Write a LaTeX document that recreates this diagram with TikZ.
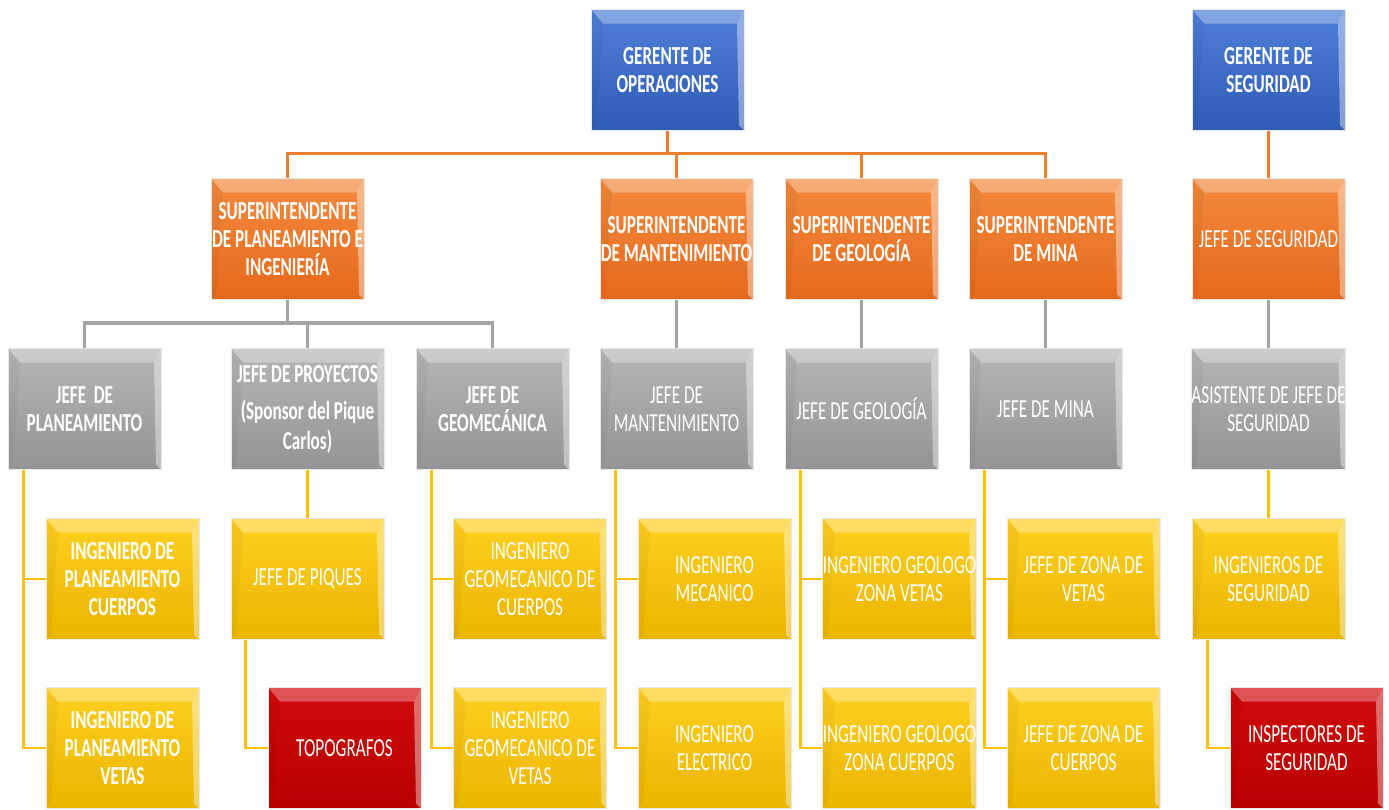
\documentclass[tikz,border=0pt]{standalone}
\usepackage{fontspec}
\setmainfont{Carlito}[FakeStretch=0.66]

\definecolor{blueA}{HTML}{4F80D8}
\definecolor{blueB}{HTML}{2F5BB5}
\definecolor{orangeA}{HTML}{F48A3E}
\definecolor{orangeB}{HTML}{E5691C}
\definecolor{grayA}{HTML}{B6B6B6}
\definecolor{grayB}{HTML}{949494}
\definecolor{yellowA}{HTML}{FFD020}
\definecolor{yellowB}{HTML}{E9B500}
\definecolor{redA}{HTML}{D10A0A}
\definecolor{redB}{HTML}{B80000}
\definecolor{oline}{HTML}{ED7D31}
\definecolor{gline}{HTML}{A5A5A5}
\definecolor{yline}{HTML}{FFC000}

\tikzset{
  box/.style={minimum width=153, minimum height=121, inner sep=0pt, align=center,
    text=white, draw=white!82!gray, line width=0.6pt,
    path picture={
      \fill[white,opacity=.3] (path picture bounding box.north west) -- (path picture bounding box.north east)
        -- ([xshift=-7pt,yshift=-14pt]path picture bounding box.north east)
        -- ([xshift=12pt,yshift=-14pt]path picture bounding box.north west) -- cycle;
      \fill[white,opacity=.4] (path picture bounding box.north east) -- (path picture bounding box.south east)
        -- ([xshift=-5pt,yshift=5pt]path picture bounding box.south east)
        -- ([xshift=-7pt,yshift=-14pt]path picture bounding box.north east) -- cycle;
      \fill[black,opacity=.04] (path picture bounding box.north west) -- ([xshift=12pt,yshift=-14pt]path picture bounding box.north west)
        -- ([xshift=5pt,yshift=5pt]path picture bounding box.south west) -- (path picture bounding box.south west) -- cycle;
    }},
  txt/.style={font=\fontsize{26}{28}\selectfont},
  txtb/.style={font=\fontsize{26}{28}\selectfont\bfseries},
  bluebox/.style={box, top color=blueA, bottom color=blueB},
  orangebox/.style={box, top color=orangeA, bottom color=orangeB},
  graybox/.style={box, top color=grayA, bottom color=grayB},
  yellowbox/.style={box, top color=yellowA, bottom color=yellowB},
  redbox/.style={box, top color=redA, bottom color=redB},
  oconn/.style={draw=oline, line width=3pt},
  gconn/.style={draw=gline, line width=3.5pt},
  yconn/.style={draw=yline, line width=2.5pt}
}

\begin{document}
\begin{tikzpicture}[x=1pt, y=-1pt]

\useasboundingbox (0,0) rectangle (1389,809);

\node[bluebox, txtb] (go) at (667.5,70) {GERENTE DE\\OPERACIONES};

\node[bluebox, txtb] (gs) at (1268.5,70) {GERENTE DE\\SEGURIDAD};

\node[orangebox, txtb] (spi) at (287.5,239) {SUPERINTENDENTE\\DE PLANEAMIENTO E\\INGENIERÍA};

\node[orangebox, txtb] (sman) at (676.5,239) {SUPERINTENDENTE\\DE MANTENIMIENTO};

\node[orangebox, txtb] (sgeo) at (861.5,239) {SUPERINTENDENTE\\DE GEOLOGÍA};

\node[orangebox, txtb] (smina) at (1045.5,239) {SUPERINTENDENTE\\DE MINA};

\node[orangebox, txt] (jseg) at (1268.5,239) {JEFE DE SEGURIDAD};

\node[graybox, txtb] (jplan) at (84.5,409) {JEFE~~DE\\PLANEAMIENTO};

\node[graybox, txtb] (jproy) at (307.5,409) {JEFE DE PROYECTOS\\[9pt](Sponsor del Pique\\[2pt]Carlos)};

\node[graybox, txtb] (jgeom) at (492.5,409) {JEFE DE\\GEOMECÁNICA};

\node[graybox, txt] (jmant) at (676.5,409) {JEFE DE\\MANTENIMIENTO};

\node[graybox, txt] (jgeol) at (861.5,409) {JEFE DE GEOLOGÍA};

\node[graybox, txt] (jmina) at (1045.5,409) {JEFE DE MINA};

\node[graybox, txt] (asis) at (1268.5,409) {ASISTENTE DE JEFE DE\\SEGURIDAD};

\node[yellowbox, txtb] (ipc) at (122.5,579) {INGENIERO DE\\PLANEAMIENTO\\CUERPOS};

\node[yellowbox, txt] (jpiq) at (307.5,579) {JEFE DE PIQUES};

\node[yellowbox, txt] (igc) at (530,579) {INGENIERO\\GEOMECANICO DE\\CUERPOS};

\node[yellowbox, txt] (imec) at (714.5,579) {INGENIERO\\MECANICO};

\node[yellowbox, txt] (igzv) at (899.5,579) {INGENIERO GEOLOGO\\ZONA VETAS};

\node[yellowbox, txt] (jzv) at (1083.5,579) {JEFE DE ZONA DE\\VETAS};

\node[yellowbox, txt] (iseg) at (1268.5,579) {INGENIEROS DE\\SEGURIDAD};

\node[yellowbox, txtb] (ipv) at (122.5,748) {INGENIERO DE\\PLANEAMIENTO\\VETAS};

\node[redbox, txt] (topo) at (344.5,748) {TOPOGRAFOS};

\node[yellowbox, txt] (igv) at (530,748) {INGENIERO\\GEOMECANICO DE\\VETAS};

\node[yellowbox, txt] (iele) at (714.5,748) {INGENIERO\\ELECTRICO};

\node[yellowbox, txt] (igzc) at (899.5,748) {INGENIERO GEOLOGO\\ZONA CUERPOS};

\node[yellowbox, txt] (jzc) at (1083.5,748) {JEFE DE ZONA DE\\CUERPOS};

\node[redbox, txt] (insp) at (1306.5,748) {INSPECTORES DE\\SEGURIDAD};

\coordinate (bus1) at (667.5,153);

\coordinate (bus2) at (287.5,323);

\draw[oconn] (go.south) -- (bus1);

\draw[oconn] (spi.north) |- (smina.north |- bus1) -- (smina.north);

\draw[oconn] (sman.north) -- (sman.north |- bus1);

\draw[oconn] (sgeo.north) -- (sgeo.north |- bus1);

\draw[oconn] (gs.south) -- (jseg.north);

\draw[gconn] (spi.south) -- (bus2);

\draw[gconn] (jplan.north) |- (jgeom.north |- bus2) -- (jgeom.north);

\draw[gconn] (jproy.north) -- (jproy.north |- bus2);

\draw[gconn] (sman.south) -- (jmant.north);

\draw[gconn] (sgeo.south) -- (jgeol.north);

\draw[gconn] (smina.south) -- (jmina.north);

\draw[gconn] (jseg.south) -- (asis.north);

\draw[yconn] ([xshift=16pt]jplan.south west) |- (ipv.west);

\draw[yconn] ([xshift=16pt]jplan.south west) |- (ipc.west);

\draw[yconn] (jproy.south) -- (jpiq.north);

\draw[yconn] ([xshift=15pt]jpiq.south west) |- (topo.west);

\draw[yconn] ([xshift=16pt]jgeom.south west) |- (igv.west);

\draw[yconn] ([xshift=16pt]jgeom.south west) |- (igc.west);

\draw[yconn] ([xshift=16pt]jmant.south west) |- (iele.west);

\draw[yconn] ([xshift=16pt]jmant.south west) |- (imec.west);

\draw[yconn] ([xshift=16pt]jgeol.south west) |- (igzc.west);

\draw[yconn] ([xshift=16pt]jgeol.south west) |- (igzv.west);

\draw[yconn] ([xshift=16pt]jmina.south west) |- (jzc.west);

\draw[yconn] ([xshift=16pt]jmina.south west) |- (jzv.west);

\draw[yconn] (asis.south) -- (iseg.north);

\draw[yconn] ([xshift=16pt]iseg.south west) |- (insp.west);

\end{tikzpicture}
\end{document}
